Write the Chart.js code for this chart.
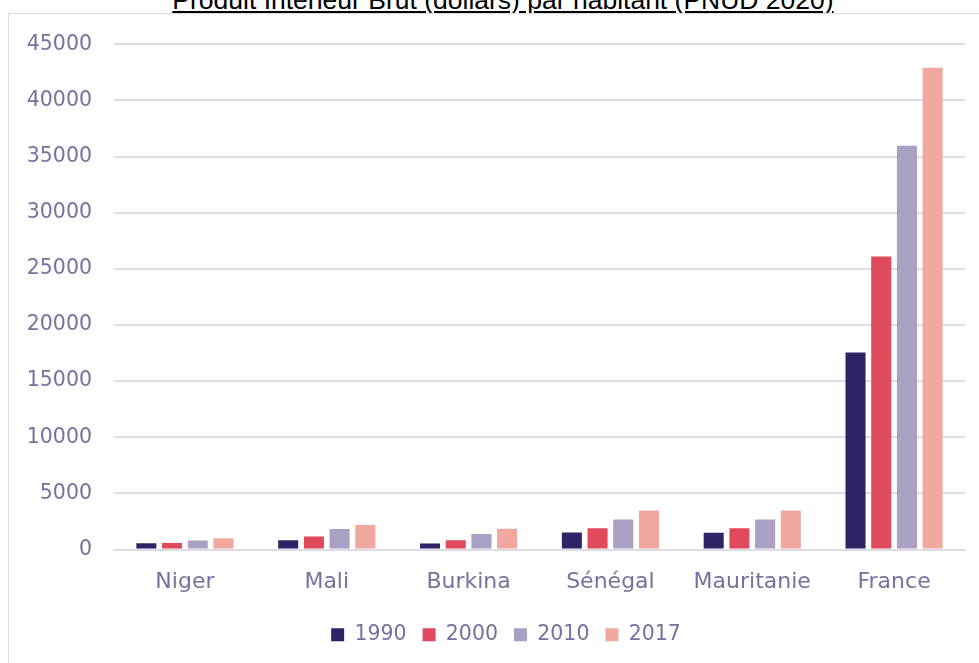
<!DOCTYPE html>
<html>
<head>
<meta charset="utf-8">
<script src="https://cdn.jsdelivr.net/npm/chart.js@4"></script>
<style>
    html, body { margin: 0; padding: 0; background: #fff; overflow: hidden; }
    body { width: 979px; height: 663px; position: relative; }
    #title {
        position: absolute; left: 0; width: 1006px; top: -15px;
        text-align: center; font-family: "Liberation Sans", Arial, sans-serif;
        font-size: 26.5px; line-height: 1.15; color: #000; text-decoration: underline; white-space: nowrap;
    }
    #frame {
        position: absolute; left: 7.5px; top: 13px; width: 990px; height: 680px;
        border: 1.5px solid #DCDCE0; box-sizing: border-box;
    }
    #wrap { position: absolute; left: 9px; top: 10px; width: 970px; height: 653px; }
</style>
</head>
<body>
<div id="title">Produit Intérieur Brut (dollars) par habitant (PNUD 2020)</div>
<div id="frame"></div>
<div id="wrap"><canvas id="pib-chart"></canvas></div>
<script>
    var countries = ['Niger', 'Mali', 'Burkina', 'Sénégal', 'Mauritanie', 'France'];
    var years = ['1990', '2000', '2010', '2017'];
    var pib1990 = [560, 830, 540, 1510, 1500, 17550];
    var pib2000 = [580, 1160, 830, 1900, 1900, 26100];
    var pib2010 = [800, 1830, 1390, 2670, 2670, 35970];
    var pib2017 = [1000, 2190, 1850, 3470, 3470, 42910];
    var yearColors = ['#2E2366', '#E04A5C', '#AAA0C3', '#F0A8A0'];

    var textColor = '#7472A0';
    var fontFamily = '"DejaVu Sans", sans-serif';

    var series = [pib1990, pib2000, pib2010, pib2017];
    var datasets = [];
    for (var i = 0; i < years.length; i++) {
        datasets.push({
            label: years[i],
            data: series[i],
            backgroundColor: yearColors[i],
            barPercentage: 0.78,
            categoryPercentage: 0.725
        });
    }

    // the legend sits a little right of the canvas centre
    var shiftLegend = {
        id: 'shiftLegend',
        afterLayout: function (chart) {
            chart.legend.left += 19;
            chart.legend.right += 19;
        }
    };

    new Chart(document.getElementById('pib-chart'), {
        type: 'bar',
        data: {
            labels: countries,
            datasets: datasets
        },
        plugins: [shiftLegend],
        options: {
            responsive: true,
            maintainAspectRatio: false,
            animation: false,
            layout: {
                padding: { top: 4, right: 14, left: 0, bottom: 8 }
            },
            plugins: {
                legend: {
                    position: 'bottom',
                    labels: {
                        boxWidth: 13,
                        boxHeight: 13,
                        padding: 16,
                        color: textColor,
                        font: { family: fontFamily, size: 20.5 }
                    }
                },
                tooltip: { enabled: false }
            },
            scales: {
                x: {
                    grid: { display: false, drawTicks: false },
                    border: { color: '#DDDCE6', width: 2 },
                    ticks: {
                        color: textColor,
                        padding: 20,
                        font: { family: fontFamily, size: 22 }
                    },
                    afterFit: function (scale) {
                        scale.height = 59;
                    }
                },
                y: {
                    min: 0,
                    max: 45000,
                    grid: { color: '#DDDCE6', lineWidth: 2, drawTicks: false },
                    border: { display: false },
                    ticks: {
                        stepSize: 5000,
                        color: textColor,
                        padding: 22,
                        font: { family: fontFamily, size: 20.5 },
                        callback: function (value) {
                            return String(value);
                        }
                    },
                    afterFit: function (scale) {
                        scale.width = 105;
                    }
                }
            }
        }
    });
</script>
</body>
</html>
